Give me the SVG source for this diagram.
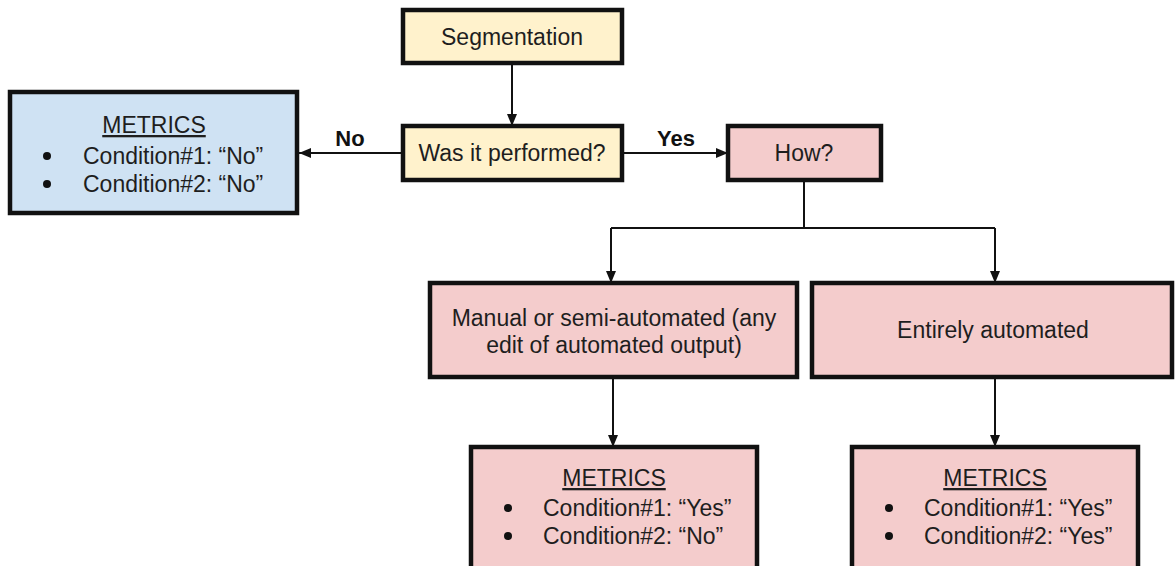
<svg xmlns="http://www.w3.org/2000/svg" width="1175" height="566" viewBox="0 0 1175 566">
<defs>
<marker id="ah" viewBox="0 0 12 10" refX="12" refY="5" markerWidth="12" markerHeight="10" markerUnits="userSpaceOnUse" orient="auto">
<path d="M0,0 L12,5 L0,10 Z" fill="#111"/>
</marker>
<style>
.box{stroke:#111;stroke-width:4.5}
.y{fill:#fff2cc}.b{fill:#cfe2f3}.p{fill:#f4cccc}
text{font-family:"Liberation Sans",Arial,sans-serif;font-size:23px;fill:#1e1e1e}
.c{text-anchor:middle}
.lbl{font-weight:bold;font-size:22px;fill:#111}
.u{text-decoration:underline}
.ln{stroke:#111;stroke-width:2;fill:none}
.arr{marker-end:url(#ah)}
</style>
</defs>
<rect width="1175" height="566" fill="#fff"/>
<g id="connectors">
<line class="ln arr" x1="512" y1="63" x2="512" y2="126"/>
<line class="ln arr" x1="403" y1="153" x2="299" y2="153"/>
<line class="ln arr" x1="622" y1="153" x2="728" y2="153"/>
<polyline class="ln" points="804,180 804,228"/>
<line class="ln" x1="611" y1="228" x2="995" y2="228"/>
<line class="ln arr" x1="611" y1="228" x2="611" y2="283"/>
<line class="ln arr" x1="995" y1="228" x2="995" y2="283"/>
<line class="ln arr" x1="613" y1="377" x2="613" y2="447"/>
<line class="ln arr" x1="995" y1="377" x2="995" y2="447"/>
<text class="lbl c" x="350" y="146">No</text>
<text class="lbl c" x="676" y="146">Yes</text>
</g>
<g id="segmentation">
<rect class="box y" x="403" y="10" width="219" height="53"/>
<text class="c" x="512" y="45">Segmentation</text>
</g>
<g id="performed">
<rect class="box y" x="403" y="126" width="219" height="54"/>
<text class="c" x="512" y="161">Was it performed?</text>
</g>
<g id="how">
<rect class="box p" x="728" y="126" width="153" height="54"/>
<text class="c" x="804" y="161">How?</text>
</g>
<g id="metrics-no">
<rect class="box b" x="10" y="92" width="287" height="121"/>
<text class="c u" x="154" y="133">METRICS</text>
<circle cx="47" cy="156" r="4" fill="#111"/>
<text x="83" y="164">Condition#1: “No”</text>
<circle cx="47" cy="184" r="4" fill="#111"/>
<text x="83" y="192">Condition#2: “No”</text>
</g>
<g id="manual">
<rect class="box p" x="430" y="283" width="367" height="94"/>
<text class="c" x="614" y="326">Manual or semi-automated (any</text>
<text class="c" x="614" y="353">edit of automated output)</text>
</g>
<g id="automated">
<rect class="box p" x="812" y="283" width="360" height="94"/>
<text class="c" x="993" y="338">Entirely automated</text>
</g>
<g id="metrics-manual">
<rect class="box p" x="471" y="447" width="286" height="130"/>
<text class="c u" x="614" y="486">METRICS</text>
<circle cx="508" cy="508" r="4" fill="#111"/>
<text x="543" y="516">Condition#1: “Yes”</text>
<circle cx="508" cy="536" r="4" fill="#111"/>
<text x="543" y="544">Condition#2: “No”</text>
</g>
<g id="metrics-auto">
<rect class="box p" x="852" y="447" width="286" height="130"/>
<text class="c u" x="995" y="486">METRICS</text>
<circle cx="889" cy="508" r="4" fill="#111"/>
<text x="924" y="516">Condition#1: “Yes”</text>
<circle cx="889" cy="536" r="4" fill="#111"/>
<text x="924" y="544">Condition#2: “Yes”</text>
</g>
</svg>
